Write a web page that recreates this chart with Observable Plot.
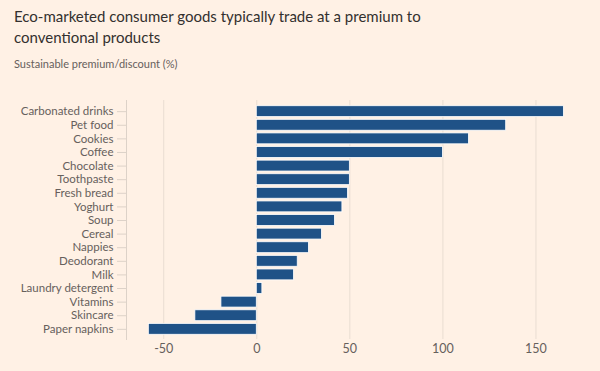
<!DOCTYPE html>
<html>
<head>
<meta charset="utf-8">
<script src="https://cdn.jsdelivr.net/npm/d3@7"></script>
<script src="https://cdn.jsdelivr.net/npm/@observablehq/plot@0.6"></script>
<style>
  html, body { margin: 0; padding: 0; background: #FFF1E5; }
  body { width: 600px; height: 371px; overflow: hidden; font-family: Lato, "Noto Sans", sans-serif; }
  #head { height: 90px; box-sizing: border-box; padding: 6px 0 0 14px; }
  #title { font-size: 15px; line-height: 21px; color: #33302e; margin: 0; font-weight: 400; }
  #subtitle { font-size: 11px; line-height: 13px; color: #66605c; margin-top: 9px; }
  #chart svg { display: block; }
</style>
</head>
<body>
<div id="head">
  <div id="title">Eco-marketed consumer goods typically trade at a premium to<br>conventional products</div>
  <div id="subtitle">Sustainable premium/discount (%)</div>
</div>
<div id="chart"></div>
<script>
const categories = ["Carbonated drinks", "Pet food", "Cookies", "Coffee", "Chocolate", "Toothpaste", "Fresh bread", "Yoghurt", "Soup", "Cereal", "Nappies", "Deodorant", "Milk", "Laundry detergent", "Vitamins", "Skincare", "Paper napkins"];
const values = [165, 134, 114, 100, 50, 50, 49, 46, 42, 35, 28, 22, 20, 3, -19, -33, -58];
const xTicks = [-50, 0, 50, 100, 150];

const data = categories.map((c, i) => ({category: c, value: values[i]}));

const chart = Plot.plot({
  width: 600,
  height: 281,
  marginTop: 10,
  marginBottom: 32,
  marginLeft: 126,
  marginRight: 18,
  style: {background: "transparent", fontFamily: "Lato, 'Noto Sans', sans-serif", fontSize: "11.5px", color: "#66605c"},
  x: {domain: [-70, 175], ticks: xTicks, label: null},
  y: {domain: categories, label: null, padding: 0.2, insetTop: 3, insetBottom: 2, round: false},
  marks: [
    Plot.gridX(xTicks, {stroke: "#e9ddd2", strokeOpacity: 1}),
    Plot.frame({anchor: "left", stroke: "#ddd2c8"}),
    Plot.barX(data, {x: "value", y: "category", fill: "#1f5287", stroke: "#ffffff", strokeWidth: 0.8}),
    Plot.axisX(xTicks, {tickSize: 0, tickPadding: 5, fontSize: 12.5, fill: "#66605c", tickFormat: d => String(d)}),
    Plot.axisY({tickSize: 9, tickPadding: 4, stroke: "#ddd2c8", fontSize: 11.5, fill: "#66605c"})
  ]
});
document.getElementById("chart").appendChild(chart);
</script>
</body>
</html>
